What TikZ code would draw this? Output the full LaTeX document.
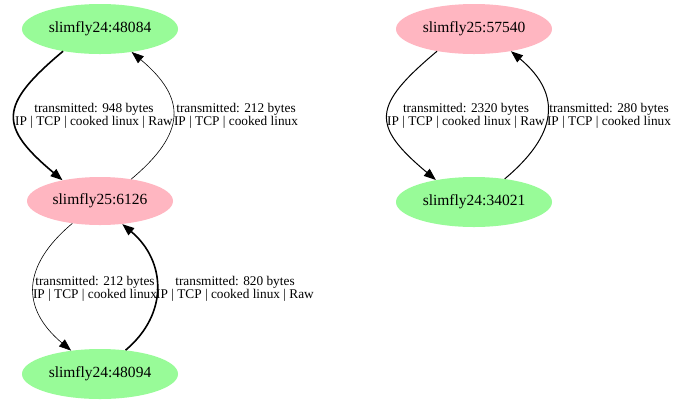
\documentclass[tikz,border=0pt]{standalone}
\usepackage{fontspec}
\setmainfont{Liberation Serif}
\usetikzlibrary{arrows.meta,shapes.geometric}
\definecolor{nodegreen}{HTML}{98FB98}
\definecolor{nodepink}{HTML}{FFB6C1}
\tikzset{
  hostnode/.style={ellipse, inner sep=0pt, minimum width=156bp, minimum height=50bp, font=\fontsize{15.5bp}{18bp}\selectfont},
  greenhost/.style={hostnode, fill=nodegreen},
  pinkhost/.style={hostnode, fill=nodepink},
  edgelabel/.style={align=center, inner sep=0pt, font=\fontsize{13.3bp}{13bp}\selectfont},
  flow/.style={-{Triangle[length=12bp,width=9bp]}},
  thickflow/.style={flow, line width=1.6bp},
  midflow/.style={flow, line width=1bp},
  thinflow/.style={flow, line width=0.6bp},
}
\begin{document}
\begin{tikzpicture}[x=1bp,y=-1bp]
\useasboundingbox (0,0) rectangle (676,404);
\node[greenhost] (a) at (100,29) {slimfly24:48084};
\node[pinkhost, minimum width=146bp, minimum height=48bp] (b) at (100,201) {slimfly25:6126};
\node[greenhost] (c) at (100,374) {slimfly24:48094};
\node[pinkhost] (d) at (474,29) {slimfly25:57540};
\node[greenhost] (e) at (474,202) {slimfly24:34021};

\draw[thickflow] (a.211) .. controls +(220:84bp) and +(140:84bp) .. (b.151);
\draw[thinflow] (b.35) .. controls +(40:72bp) and +(-40:72bp) .. (a.-36);
\draw[thinflow] (b.-141) .. controls +(220:66bp) and +(140:66bp) .. (c.141);
\draw[thickflow] (c.43) .. controls +(40:57bp) and +(-40:57bp) .. (b.-46);
\draw[midflow] (d.211) .. controls +(220:85bp) and +(140:85bp) .. (e.150);
\draw[midflow] (e.37) .. controls +(40:68bp) and +(-40:68bp) .. (d.-31);

\node[edgelabel] (l1) at (94,116) {transmitted: 948 bytes\\IP | TCP | cooked linux | Raw};
\node[edgelabel] (l2) at (236,116) {transmitted: 212 bytes\\IP | TCP | cooked linux};
\node[edgelabel] (l3) at (95,289) {transmitted: 212 bytes\\IP | TCP | cooked linux};
\node[edgelabel] (l4) at (235,289) {transmitted: 820 bytes\\IP | TCP | cooked linux | Raw};
\node[edgelabel] (l5) at (466,116) {transmitted: 2320 bytes\\IP | TCP | cooked linux | Raw};
\node[edgelabel] (l6) at (609,116) {transmitted: 280 bytes\\IP | TCP | cooked linux};
\end{tikzpicture}
\end{document}
